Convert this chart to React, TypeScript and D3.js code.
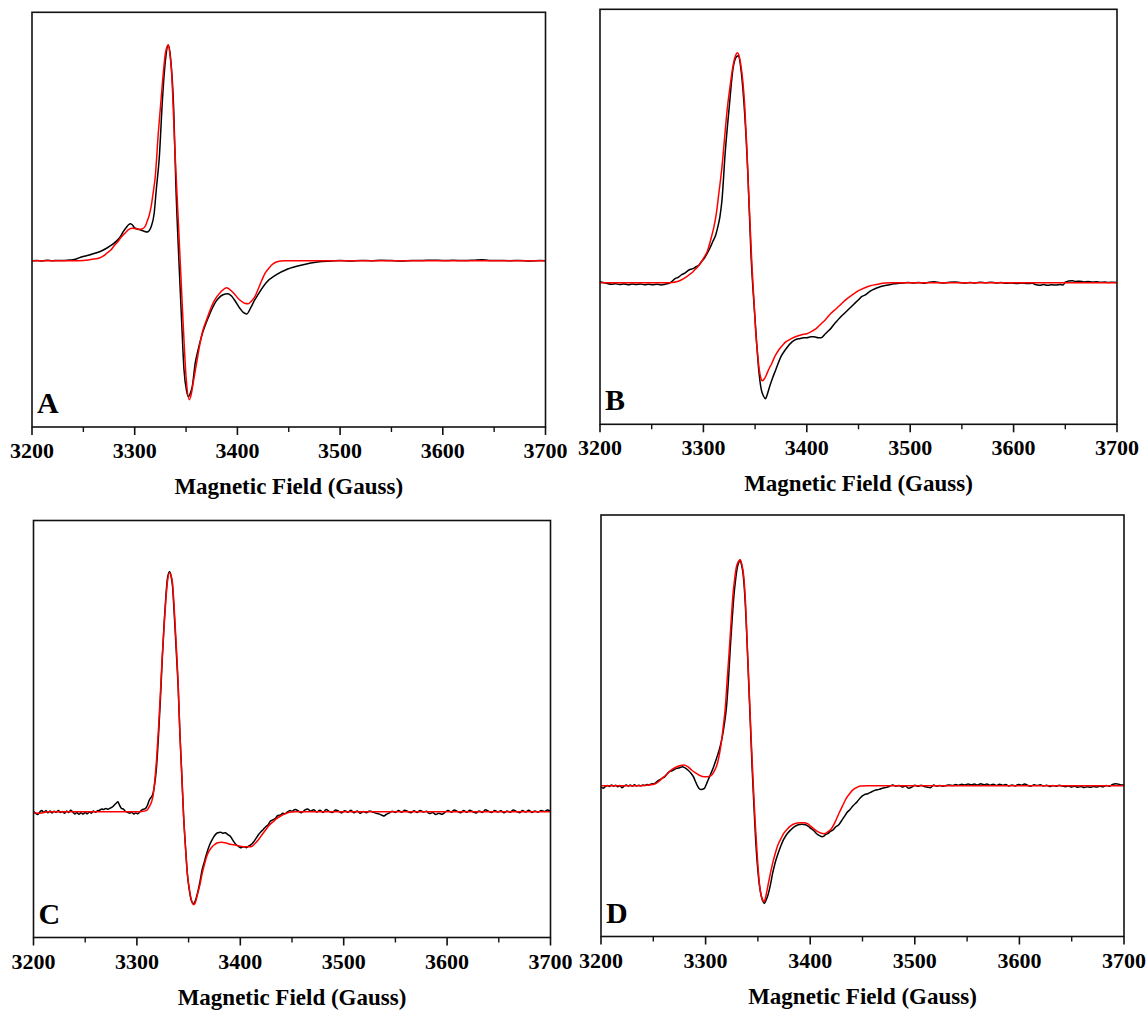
import React from "react";
import * as d3 from "d3";

type Pt = [number, number];

// Magnetic field axis (Gauss)
const fieldDomain: [number, number] = [3200, 3700];
const majorTicks = [3200, 3300, 3400, 3500, 3600, 3700];
const minorTicks = [3250, 3350, 3450, 3550, 3650];
const xTitle = "Magnetic Field (Gauss)";
const panelLetters = ["A", "B", "C", "D"];

// Intensity ranges (a.u.) shown in each panel
const rangeA: [number, number] = [-166.3, 248.4];
const rangeB: [number, number] = [-141.6, 273.4];
const rangeC: [number, number] = [-125.8, 291.2];
const rangeD: [number, number] = [-150.8, 270.7];

// ---------- Panel A ----------
const expA: Pt[] = [
  [3200, 0], [3205, 0.3], [3210, -0.2], [3215, 0.4], [3220, 0], [3225, 0.3], [3230, 0.2], [3235, 0.5],
  [3240, 1], [3245, 2.5], [3248, 3.7], [3255, 5.5], [3262, 7.7], [3268, 10], [3273, 12.7], [3278, 16],
  [3282, 19.3], [3286, 24], [3289, 29.3], [3292, 33.5], [3294, 36], [3296, 37], [3298, 35.5], [3300, 32.7],
  [3305, 31], [3309, 29.5], [3312, 28.7], [3314, 30], [3316, 34], [3319, 47.7], [3321, 71], [3324, 104],
  [3327, 161], [3330, 201], [3332.7, 215.7], [3335, 202], [3338, 151], [3340, 78], [3343, 1],
  [3345.5, -56], [3348, -109], [3350.5, -130], [3352.2, -136], [3354, -133], [3356, -126], [3359, -102],
  [3362, -88], [3365, -76], [3372, -56], [3379, -41], [3386, -34], [3390.5, -33], [3394, -35], [3397, -39],
  [3402, -47], [3406, -52], [3409, -53.3], [3413, -47], [3417, -39], [3420, -34], [3428, -22], [3438, -14],
  [3449, -8.3], [3464, -4], [3478, -1.3], [3492, -0.3], [3500, 0.2], [3510, -0.2], [3520, 0.3], [3530, 0],
  [3540, 0.4], [3550, 0.1], [3560, -0.2], [3570, 0.3], [3580, 0.2], [3590, 0.5], [3600, 0.2], [3610, 0.4],
  [3620, 0.1], [3630, 0.5], [3638, 1], [3645, 0.3], [3655, 0.2], [3665, 0], [3675, 0.3], [3685, -0.2],
  [3695, 0.1], [3700, 0],
];
const simA: Pt[] = [
  [3200, 0], [3240, 0], [3250, 0.3], [3255, 0.8], [3260, 1.6], [3265.6, 2.7], [3270, 5], [3273, 7.7],
  [3277, 11], [3280, 15], [3284, 19.5], [3287, 23.7], [3291, 28], [3294, 31], [3297, 32.5], [3300, 32.3],
  [3304, 31.5], [3307, 31.7], [3310, 34], [3312, 39], [3314, 45], [3316, 54], [3318, 68], [3320, 84],
  [3323, 128], [3327, 178], [3330, 208], [3332.7, 216], [3334, 209], [3336, 187], [3339, 114], [3343, 28],
  [3347, -59], [3350, -116], [3353.2, -139], [3355, -134], [3357, -122], [3360, -104], [3363, -86],
  [3366, -71], [3370, -59], [3377, -41], [3384, -31], [3389.6, -27], [3395, -31], [3402, -39], [3407, -42.5],
  [3410.6, -43], [3414, -40], [3417, -36], [3420, -29], [3424, -19], [3427, -12.5], [3431, -7], [3435, -3],
  [3438, -1.3], [3442, -0.3], [3446, 0], [3700, 0],
];

// ---------- Panel B ----------
const expB: Pt[] = [
  [3200, 1], [3203, 0.3], [3207, -0.8], [3211, -1.5], [3215, -1], [3219, -1.8], [3223, -1.2], [3227, -2],
  [3231, -1.4], [3235, -1.8], [3239, -1.2], [3243, -2.1], [3247, -1.5], [3251, -2], [3255, -1.6],
  [3259, -2.2], [3263, -1.5], [3266, -0.8], [3268, 0], [3273, 4.3], [3276, 5.5], [3278.5, 7.7], [3282, 9.5],
  [3286, 12.7], [3290, 14], [3293, 16], [3296, 18], [3298, 21], [3301, 24.5], [3303.5, 29], [3306, 34],
  [3309, 41], [3312, 48], [3314, 56], [3316, 66], [3318, 83], [3321, 129], [3325, 176], [3328.5, 213],
  [3332, 226], [3334, 227], [3336, 216], [3339, 183], [3343, 109], [3346, 29], [3350, -37], [3353.5, -87],
  [3356, -107], [3358, -113], [3360, -116], [3362, -111], [3364, -104], [3367, -95], [3370, -87],
  [3375, -74], [3380, -66], [3386, -59], [3390, -56.5], [3393, -56], [3397, -55], [3400, -55], [3404, -54],
  [3407, -54], [3411, -55], [3414, -55], [3418, -51], [3420, -49], [3423, -46], [3426, -42], [3428.5, -39],
  [3432, -35], [3436, -31], [3439, -28], [3443, -24], [3446, -21], [3450, -17], [3453, -14], [3457, -12],
  [3460, -9.5], [3464, -7], [3467, -5.5], [3471, -4], [3475, -3], [3478.5, -2.3], [3482, -1.5], [3486, -1],
  [3490, -0.5], [3493, -0.3], [3498, 0.2], [3503, -0.4], [3508, 0.3], [3513, -0.5], [3518, 0.4],
  [3523, 0.9], [3528, 0.3], [3533, -0.3], [3538, 0.5], [3543, 0.8], [3548, 0.2], [3553, -0.3], [3558, 0.3],
  [3563, -0.2], [3568, 0.4], [3573, 0], [3578, 0.5], [3583, -0.3], [3588, 0.2], [3593, -0.6], [3598, -0.2],
  [3603, -0.8], [3608, -0.3], [3613, -0.9], [3618, -0.5], [3621, -1.8], [3625, -2.5], [3629, -1.9],
  [3633, -2.6], [3637, -2], [3641, -2.4], [3645, -1.8], [3648, -2.2], [3650, 0.5], [3653, 1.6], [3657, 2],
  [3660, 1.2], [3664, 1.5], [3668, 0.8], [3672, 1.1], [3676, 0.6], [3680, 0.9], [3684, 0.4], [3688, 0.7],
  [3692, 0.3], [3696, 0.5], [3700, 0.2],
];
const simB: Pt[] = [
  [3200, 0], [3265, 0], [3270, 0.3], [3274, 1], [3278.5, 2.7], [3282, 4.8], [3286, 7.7], [3290, 11],
  [3293, 14.3], [3297, 19], [3300, 24.3], [3304, 32], [3307, 42.7], [3310, 55], [3312.5, 69], [3315, 90],
  [3318, 116], [3320.5, 145], [3323, 173], [3326, 198], [3328.5, 216], [3331, 227], [3333, 230],
  [3334.5, 227], [3336, 219], [3338, 203], [3340, 176], [3342, 135], [3343.5, 96], [3345, 62], [3347, 16],
  [3349, -20], [3350.7, -51], [3352.5, -72], [3354, -87], [3355.5, -95], [3357, -98], [3359, -96],
  [3361, -92], [3363, -87], [3366, -81], [3369, -74], [3373, -67], [3377, -62], [3380, -59], [3385, -56],
  [3389, -54], [3395, -52], [3400, -51], [3405, -48.5], [3409, -46], [3413, -42], [3418, -37], [3423, -31],
  [3428.5, -26], [3434, -20.5], [3439, -16], [3445, -11.5], [3450, -8], [3455, -5.5], [3460.7, -3.3],
  [3466, -2], [3471, -1], [3476, -0.4], [3482, 0], [3700, 0],
];

// ---------- Panel C ----------
const expC: Pt[] = [
  [3200, 0.5], [3202, -1.8], [3204, -2.8], [3206, -0.5], [3208, 1.2], [3210, -0.8], [3212, 1], [3214, -1.1],
  [3216, 0.7], [3218, -1.3], [3220, 0.4], [3222, -0.5], [3224, 1.1], [3226, -0.8], [3228, 0.2], [3230, -1.6],
  [3232, 0.8], [3234, -0.7], [3236, 1.5], [3238, -0.4], [3240, -2.2], [3242, -0.9], [3244, -2.6],
  [3246, -1.1], [3248, -2.4], [3250, -0.7], [3252, -2.1], [3254, -0.2], [3256, -1.5], [3258, 0.6], [3260, -0.6],
  [3262, 1], [3264, 1.5], [3266, 2.8], [3268, 2.2], [3270, 3.3], [3272, 2.5], [3274, 3.5], [3276, 4.5],
  [3278, 6.5], [3280, 8.5], [3281.6, 10], [3283, 7], [3285, 3.3], [3287, 2.5], [3289, 0.2], [3291, -0.5],
  [3293, -1.5], [3295, -0.5], [3297, -2.3], [3299, -1.2], [3301, -2], [3303, 0], [3305, 1.8],
  [3308.4, 3.3], [3310, 6], [3312, 11.7], [3315.5, 18], [3317, 26], [3319, 45], [3321, 78], [3322.7, 112],
  [3324.5, 152], [3326.3, 188], [3328, 215], [3329.8, 235], [3331.6, 240], [3333, 236], [3334.5, 225],
  [3336, 200], [3338, 162], [3340, 122], [3341.6, 78], [3343.5, 35], [3345.2, -5], [3347, -35],
  [3348.8, -62], [3350.5, -77], [3352.4, -88], [3354.9, -92], [3356.5, -89], [3358.5, -82], [3361, -70],
  [3363.1, -58], [3365, -51], [3367.4, -42], [3370, -34], [3372.8, -28], [3375, -24], [3378.1, -21],
  [3381, -20.5], [3383, -21.5], [3385.3, -21], [3388, -23], [3390.7, -25], [3393, -29], [3396, -33],
  [3398, -34.5], [3400, -36], [3403.2, -35], [3406, -36], [3408, -34.5], [3410.3, -33], [3413, -30],
  [3415, -27], [3417.5, -23], [3420, -20], [3422, -18], [3424.6, -15], [3427, -13], [3429, -9.5],
  [3431.8, -8], [3434, -6.5], [3436, -4], [3439, -3.3], [3441, -1.5], [3443, -2], [3446, 0], [3448, 1.2],
  [3450, 0.5], [3452, 1.8], [3453.3, 2.3], [3456, 0.8], [3459, -1], [3462, 1.3], [3465, 2.8], [3468, 0.6],
  [3471, 1.9], [3474, -0.4], [3477, 1.5], [3480, -0.8], [3483, 2.2], [3486, 0.3], [3489, -0.7], [3492, 1.8],
  [3495, 0.5], [3498, -1.3], [3501, 1], [3504, -0.5], [3507, 1.5], [3510, -1], [3513, 0.7], [3516, -1.6],
  [3519, 0.3], [3522, -1.1], [3525, 0.8], [3528, -0.3], [3531, -1.4], [3534, -2.2], [3537, -3.6],
  [3539, -4.3], [3541, -2.8], [3544, -1.3], [3547, 0.5], [3550, -0.8], [3553, 1.1], [3556, -0.5], [3559, 1.5],
  [3562, 0.2], [3565, -1], [3568, 1], [3571, -0.7], [3574, 1.3], [3577, -0.3], [3580, 0.5], [3583, -1.9],
  [3586, -0.8], [3589, -2.8], [3592, -1.6], [3595, -2.6], [3598, -0.6], [3601, 1.3], [3604, -0.5],
  [3607, 1.6], [3610, 0.3], [3613, -1], [3616, 1.1], [3619, -0.5], [3622, 1.5], [3625, 0], [3628, -1.3],
  [3631, 0.8], [3634, -0.7], [3637, 1.9], [3640, 0.5], [3643, -0.8], [3646, 1.3], [3649, -0.3], [3652, 1],
  [3655, -1.1], [3658, 0.7], [3661, -0.5], [3664, 1.6], [3667, 0.2], [3670, -1], [3673, 1.1], [3676, -0.3],
  [3679, 1.5], [3682, -0.7], [3685, 0.8], [3688, -0.5], [3691, 1.3], [3694, 0.2], [3697, 1.6], [3700, 0.6],
];
const simC: Pt[] = [
  [3200, -0.5], [3204, -1.5], [3208, -1.2], [3212, -0.3], [3220, 0], [3300, 0], [3305, 0.3], [3308, 0.8],
  [3310, 1.7], [3312, 5], [3315.5, 15], [3317, 28], [3319, 52], [3321, 85], [3322.7, 118], [3324.5, 155],
  [3326.3, 185], [3328, 212], [3329.8, 232], [3331.6, 239], [3333, 236], [3334.5, 228], [3336, 205],
  [3338, 168], [3340, 125], [3341.6, 78], [3343.5, 35], [3345.2, -5], [3347, -36], [3348.8, -62],
  [3350.5, -76], [3352.4, -87], [3354.9, -93], [3356.5, -91], [3358.5, -83], [3361, -73], [3363.1, -62],
  [3365, -54], [3367.4, -45], [3370, -39], [3372.8, -35], [3375, -33], [3378.1, -31], [3382, -30.5],
  [3385.3, -31], [3390, -32.5], [3396, -33.5], [3403.2, -35], [3410.3, -35], [3414, -32], [3417.5, -28],
  [3421, -23], [3424.6, -18], [3428, -13.5], [3431.8, -10], [3435, -7], [3439, -4.3], [3443, -2.2],
  [3446, -1], [3450, -0.3], [3453.3, 0], [3700, 0],
];

// ---------- Panel D ----------
const expD: Pt[] = [
  [3200, -1.5], [3202, -2.5], [3204, -1], [3206, 0.3], [3208, -0.8], [3210, 0.8], [3212, -0.5], [3214, 0.5],
  [3216, -1], [3218, 0.2], [3220, -2], [3222, -0.5], [3224, 0.8], [3226, -0.3], [3228, 0.6], [3230, -0.4],
  [3232, 0.9], [3234, -0.2], [3236, 0.5], [3238, 0], [3240, 0.8], [3242, 0.3], [3244, 1.2], [3246, 0.8],
  [3248, 1.8], [3251.4, 2.3], [3254, 4.5], [3256, 5.8], [3258.4, 7.3], [3261, 9], [3263, 11.5],
  [3265.4, 14], [3268, 15], [3270, 16.2], [3272.5, 17.3], [3275, 18], [3277.8, 19], [3280, 18],
  [3283, 15.7], [3286, 12.5], [3288.3, 9], [3290, 5], [3291.8, 0.7], [3293.5, -2.5], [3295.4, -3.7],
  [3297, -3.5], [3298.9, -2.7], [3300.5, 1], [3302.4, 5.7], [3305, 12], [3307.7, 19], [3310, 26],
  [3313, 35.7], [3315, 44], [3316.5, 52], [3318, 62], [3320, 79], [3321.8, 105], [3323.5, 136],
  [3325.3, 165], [3327, 189], [3328.8, 207], [3330.5, 219], [3332, 224], [3333, 225.7], [3334.3, 221],
  [3335.8, 212], [3337.5, 190], [3339.3, 152], [3341, 108], [3342.9, 59], [3344.6, 15], [3346.4, -24],
  [3348, -57], [3349.9, -84], [3351.5, -100], [3353.4, -111], [3355, -116], [3356.2, -117.7], [3358, -114],
  [3359.7, -109], [3362, -99], [3364, -88], [3366.5, -77], [3369.2, -68], [3372, -60], [3374.5, -54],
  [3378, -48], [3381.6, -44], [3385, -41], [3388.6, -39], [3392, -38.5], [3395.6, -39], [3398, -40.5],
  [3400.9, -43], [3403.5, -45], [3406.2, -48], [3409, -50], [3411.5, -51], [3413, -50.5], [3414.5, -49],
  [3416.7, -48], [3419, -46], [3422, -44], [3424.5, -41], [3427.3, -39], [3430, -35], [3432.6, -31],
  [3435, -27], [3437.9, -24], [3441, -20], [3444.9, -16], [3448, -12], [3451.9, -9], [3455, -8],
  [3459, -6], [3462, -4.5], [3466, -3.7], [3469, -2.5], [3473, -1.7], [3476, -0.5], [3479, 0.8],
  [3482, -0.5], [3485, 0.3], [3488, -1.2], [3491, -0.3], [3494, -2.5], [3497, -1.5], [3500, 0.4],
  [3503, -0.6], [3506, 0.5], [3509, -0.8], [3512, -1.5], [3515, -2], [3518, 0.6], [3521, -0.4], [3524, 0.3],
  [3527, -0.6], [3530, 0.2], [3533, 0.8], [3536, 0.1], [3539, 1.2], [3542, 0.5], [3545, 1.5], [3548, 0.7],
  [3551, 1.8], [3554, 0.9], [3557, 1.6], [3560, 0.6], [3563, 1.9], [3566, 1], [3569, 1.7], [3572, 0.5],
  [3575, 1.4], [3578, 0.3], [3581, 1.5], [3584, 0.4], [3587, 1.2], [3590, -0.3], [3593, 0.8], [3596, -0.2],
  [3599, 1.3], [3602, 0.5], [3605, 1.8], [3608, 0.3], [3611, -0.5], [3614, 0.9], [3617, 0.2], [3620, 1],
  [3623, -0.3], [3626, 0.5], [3629, -0.8], [3632, 0.2], [3635, -0.5], [3638, 0.4], [3641, -0.2], [3644, -1],
  [3647, -0.3], [3650, -1.3], [3653, -0.6], [3656, -1.5], [3659, -0.8], [3662, -1.8], [3665, -1],
  [3668, -1.6], [3671, -0.7], [3674, -1.4], [3677, -0.5], [3680, -1.2], [3683, 0.2], [3686, -0.5],
  [3689, 1.2], [3692, 2], [3695, 1.5], [3698, 0.6], [3700, 0.9],
];
const simD: Pt[] = [
  [3200, 0], [3238, 0], [3242, 0.3], [3246, 0.8], [3251.4, 1.7], [3255, 4], [3258.4, 7.3], [3262, 10.5],
  [3265.4, 14], [3269, 17], [3272.5, 19], [3276, 20.3], [3279.5, 20.7], [3283, 19], [3286.6, 15.7],
  [3290, 13], [3293.6, 10.7], [3297, 9.3], [3300.6, 9], [3303, 9.3], [3305.9, 10.7], [3308.5, 15],
  [3311.2, 22], [3313.5, 33], [3315.4, 46], [3317, 60], [3318.9, 79], [3320.5, 104], [3322.4, 132],
  [3324.2, 161], [3326, 189], [3327.7, 206], [3329.5, 219], [3331.3, 224], [3333, 226], [3334.5, 222],
  [3336.5, 209], [3338.3, 180], [3340, 136], [3341.8, 92], [3343.6, 46], [3345.3, 7], [3347.1, -31],
  [3348.9, -62], [3350.6, -88], [3352, -103], [3353.4, -111], [3355, -115], [3355.9, -116], [3357.5, -111],
  [3359.4, -101], [3361.5, -90], [3364, -78], [3366.5, -68], [3369.2, -59], [3372, -53], [3374.5, -48],
  [3378, -43.5], [3381.6, -40], [3385, -38], [3390.4, -37], [3394, -37], [3397.4, -38], [3401, -41],
  [3404.4, -44], [3408, -46.5], [3413.2, -48], [3417, -46], [3420.3, -43], [3424, -36], [3427.3, -28],
  [3431, -20], [3434.3, -13], [3438, -7.5], [3441.4, -3.7], [3445, -1.5], [3448.4, -0.3], [3455.5, 0],
  [3700, 0],
];

// ---------- Layout (positions only) ----------
type Layout = { left: number; right: number; top: number; bottom: number };
const layouts: Layout[] = [
  { left: 32, right: 545.5, top: 12.3, bottom: 427 },
  { left: 600, right: 1117, top: 9.3, bottom: 424.3 },
  { left: 33.5, right: 550.5, top: 520.5, bottom: 937.5 },
  { left: 601, right: 1124, top: 515, bottom: 936.5 },
];
const experiments = [expA, expB, expC, expD];
const simulations = [simA, simB, simC, simD];
const ranges = [rangeA, rangeB, rangeC, rangeD];

const FONT = "'Liberation Serif', 'Times New Roman', Times, serif";

function Panel({ idx }: { idx: number }) {
  const L = layouts[idx];
  const x = d3.scaleLinear().domain(fieldDomain).range([L.left, L.right]);
  const y = d3.scaleLinear().domain(ranges[idx]).range([L.bottom, L.top]);
  const line = d3
    .line<Pt>()
    .x((d) => x(d[0]))
    .y((d) => y(d[1]))
    .curve(d3.curveMonotoneX);
  return (
    <g>
      <path d={line(experiments[idx]) || ""} fill="none" stroke="#000" strokeWidth={1.5} strokeLinejoin="round" />
      <path d={line(simulations[idx]) || ""} fill="none" stroke="#ff0000" strokeWidth={1.5} strokeLinejoin="round" />
      <rect
        x={L.left}
        y={L.top}
        width={L.right - L.left}
        height={L.bottom - L.top}
        fill="none"
        stroke="#111"
        strokeWidth={1.6}
      />
      {majorTicks.map((t) => (
        <g key={"M" + t}>
          <line x1={x(t)} x2={x(t)} y1={L.bottom} y2={L.bottom + 8} stroke="#111" strokeWidth={1.6} />
          <text
            x={x(t)}
            y={L.bottom + 31}
            textAnchor="middle"
            fontFamily={FONT}
            fontWeight="bold"
            fontSize={22}
            fill="#000"
          >
            {t}
          </text>
        </g>
      ))}
      {minorTicks.map((t) => (
        <line key={"m" + t} x1={x(t)} x2={x(t)} y1={L.bottom} y2={L.bottom + 5} stroke="#111" strokeWidth={1.4} />
      ))}
      <text
        x={(L.left + L.right) / 2}
        y={L.bottom + 67}
        textAnchor="middle"
        fontFamily={FONT}
        fontWeight="bold"
        fontSize={23}
        fill="#000"
      >
        {xTitle}
      </text>
      <text
        x={L.left + 5}
        y={L.bottom - 14}
        fontFamily={FONT}
        fontWeight="bold"
        fontSize={30}
        fill="#000"
      >
        {panelLetters[idx]}
      </text>
    </g>
  );
}

export default function App() {
  return (
    <svg
      width={1147}
      height={1010}
      viewBox="0 0 1147 1010"
      style={{ position: "absolute", left: 0, top: 0, background: "#fff" }}
    >
      <rect x={0} y={0} width={1147} height={1010} fill="#fff" />
      {layouts.map((_, i) => (
        <Panel key={i} idx={i} />
      ))}
    </svg>
  );
}
